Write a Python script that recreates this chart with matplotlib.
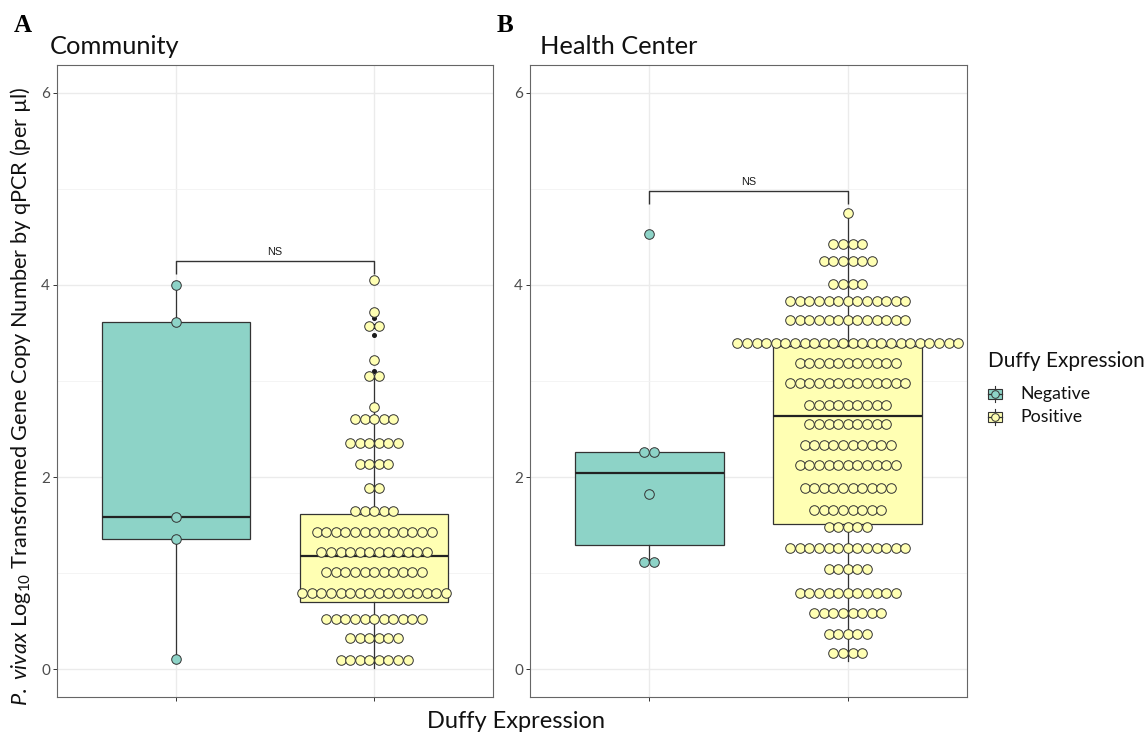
import numpy as np
import matplotlib
matplotlib.use('Agg')
import matplotlib.pyplot as plt
from matplotlib.patches import Rectangle

# ---------------- data ----------------
groups = ['Negative', 'Positive']
panel_titles = ['Community', 'Health Center']
panel_letters = ['A', 'B']
fill_colors = ['#8DD3C7', '#FFFFB3']

# dot-plot rows: binned value and number of dots stacked in that bin
comm_neg_vals = [4.00, 3.61, 1.58, 1.36, 0.11]
comm_neg_counts = [1, 1, 1, 1, 1]
comm_pos_vals = [4.05, 3.72, 3.57, 3.22, 3.05, 2.73, 2.60, 2.35, 2.14, 1.89,
                 1.645, 1.43, 1.215, 1.01, 0.79, 0.52, 0.32, 0.10]
comm_pos_counts = [1, 1, 2, 1, 2, 1, 5, 6, 4, 2, 5, 13, 12, 11, 16, 11, 6, 8]
hc_neg_vals = [4.53, 2.26, 1.82, 1.12]
hc_neg_counts = [1, 2, 1, 2]
hc_pos_vals = [4.745, 4.43, 4.25, 4.01, 3.83, 3.63, 3.40, 3.19, 2.98, 2.75, 2.55,
               2.33, 2.125, 1.89, 1.66, 1.48, 1.26, 1.04, 0.795, 0.58, 0.37, 0.165]
hc_pos_counts = [1, 4, 6, 4, 13, 13, 24, 11, 13, 9, 9, 10, 11, 10, 8, 5, 13, 5,
                 11, 8, 5, 4]

# box stats: whisker low, Q1, median, Q3, whisker high
comm_neg_box = [0.11, 1.36, 1.58, 3.61, 4.00]
comm_pos_box = [0.01, 0.70, 1.18, 1.62, 3.06]
hc_neg_box = [1.12, 1.295, 2.04, 2.26, 2.26]
hc_pos_box = [0.09, 1.51, 2.64, 3.36, 4.75]
comm_neg_out = []
comm_pos_out = [3.10, 3.22, 3.48, 3.57, 3.66, 3.72, 4.05]
hc_neg_out = [4.53]
hc_pos_out = []

ns_label = 'NS'
ns_heights = [4.25, 4.98]
y_ticks = [0, 2, 4, 6]
y_minor = [1, 3, 5]
x_label = 'Duffy Expression'
y_label = r'$\mathit{P.\ vivax}$ Log$_{10}$ Transformed Gene Copy Number by qPCR (per µl)'
legend_title = 'Duffy Expression'

panels = [
    dict(vals=[comm_neg_vals, comm_pos_vals], counts=[comm_neg_counts, comm_pos_counts],
         box=[comm_neg_box, comm_pos_box], out=[comm_neg_out, comm_pos_out]),
    dict(vals=[hc_neg_vals, hc_pos_vals], counts=[hc_neg_counts, hc_pos_counts],
         box=[hc_neg_box, hc_pos_box], out=[hc_neg_out, hc_pos_out]),
]

# ---------------- style ----------------
MAIN_FONT = ['Lato', 'DejaVu Sans']
plt.rcParams['font.family'] = MAIN_FONT
plt.rcParams['mathtext.fontset'] = 'custom'
plt.rcParams['mathtext.rm'] = 'Lato'
plt.rcParams['mathtext.it'] = 'Lato:italic'
plt.rcParams['mathtext.bf'] = 'Lato:bold'

W, H = 1147, 736
DPI = 100
fig = plt.figure(figsize=(W / DPI, H / DPI), dpi=DPI)
fig.patch.set_facecolor('white')


def rect(x0, y0, x1, y1):
    return [x0 / W, 1 - y1 / H, (x1 - x0) / W, (y1 - y0) / H]


axes_px = [(57, 65, 493, 697), (530, 65, 967, 697)]
XLIM = (0.4, 2.6)
YLIM = (-0.29, 6.29)
positions = [1, 2]
box_w = 0.75
dot_step = 0.0483  # in x data units
edge = '#333333'

for pi, (p, apx) in enumerate(zip(panels, axes_px)):
    ax = fig.add_axes(rect(*apx))

    px_per_unit = (apx[2] - apx[0]) / (XLIM[1] - XLIM[0])
    ms = dot_step * px_per_unit * 72 / DPI

    stats = []
    for b, o in zip(p['box'], p['out']):
        stats.append(dict(whislo=b[0], q1=b[1], med=b[2], q3=b[3], whishi=b[4], fliers=o))
    bp = ax.bxp(stats, positions=positions, widths=box_w, patch_artist=True,
                showcaps=False, showfliers=True,
                boxprops=dict(edgecolor=edge, lw=0.9),
                medianprops=dict(color='#222222', lw=1.6),
                whiskerprops=dict(color=edge, lw=0.9),
                flierprops=dict(marker='o', ms=2.6, mfc='#1a1a1a', mec='#1a1a1a', ls='none'),
                zorder=2)
    for patch, c in zip(bp['boxes'], fill_colors):
        patch.set_facecolor(c)

    for gi, (vals, cnts) in enumerate(zip(p['vals'], p['counts'])):
        xs, ys = [], []
        for v, n in zip(vals, cnts):
            offs = (np.arange(n) - (n - 1) / 2.0) * dot_step
            xs.extend(positions[gi] + offs)
            ys.extend([v] * n)
        ax.plot(xs, ys, ls='none', marker='o', ms=ms, mfc=fill_colors[gi], mec=edge,
                mew=0.7, zorder=4)

    # significance bracket
    h = ns_heights[pi]
    tick = 0.14
    ax.plot([positions[0], positions[0], positions[1], positions[1]],
            [h - tick, h, h, h - tick], color='#333333', lw=1.0, zorder=5,
            solid_capstyle='butt')
    ax.text(np.mean(positions), h + 0.04, ns_label, ha='center', va='bottom',
            fontsize=7.8, family=['Liberation Sans'], color='#1a1a1a', zorder=5)

    ax.set_xlim(*XLIM)
    ax.set_ylim(*YLIM)
    ax.set_axisbelow(True)
    ax.set_yticks(y_ticks)
    ax.set_yticks(y_minor, minor=True)
    ax.set_xticks(positions)
    ax.set_xticklabels(['', ''])
    ax.grid(True, which='major', color='#EBEBEB', lw=1.0)
    ax.grid(True, which='minor', axis='y', color='#F2F2F2', lw=0.6)
    ax.tick_params(axis='y', which='minor', length=0)
    ax.tick_params(axis='both', which='major', length=3, width=0.7, color='#333333',
                   labelsize=11, labelcolor='#4D4D4D', pad=2)
    for s in ax.spines.values():
        s.set_color('#666666')
        s.set_linewidth(0.8)

renderer = fig.canvas.get_renderer()


def fit(t, target, vertical=False):
    bb = t.get_window_extent(renderer)
    size = bb.height if vertical else bb.width
    t.set_fontsize(t.get_fontsize() * target / size)


# titles
t1 = fig.text(50 / W, 1 - 47 / H, panel_titles[0], ha='left', va='center', fontsize=16,
              color='#111111')
fit(t1, 130)
t2 = fig.text(540 / W, 1 - 47 / H, panel_titles[1], ha='left', va='center',
              fontsize=t1.get_fontsize(), color='#111111')
for x, letter in zip([14, 497], panel_letters):
    fig.text(x / W, 1 - 25 / H, letter, ha='left', va='center', fontsize=18,
             fontweight='bold', family=['Liberation Serif'], color='#000000')

# axis labels
xl = fig.text(516 / W, 1 - 722 / H, x_label, ha='center', va='center', fontsize=16,
              color='#111111')
fit(xl, 179)
yl = fig.text(21 / W, 1 - 396 / H, y_label, ha='center', va='center', rotation=90,
              fontsize=13, color='#111111')
fit(yl, 617, vertical=True)

# legend
lt = fig.text(988 / W, 1 - 361 / H, legend_title, ha='left', va='center', fontsize=14,
              color='#111111')
fit(lt, 157)
lax = fig.add_axes(rect(980, 380, 1012, 430))
lax.set_xlim(980, 1012)
lax.set_ylim(430, 380)
lax.axis('off')
key_y = [394, 417]
leg_size = 12
for ky, c, g in zip(key_y, fill_colors, groups):
    kx = 995
    lax.plot([kx, kx], [ky - 8, ky + 8], color=edge, lw=0.8, zorder=1)
    lax.add_patch(Rectangle((kx - 7, ky - 5), 14, 10, facecolor=c, edgecolor=edge,
                            lw=0.8, zorder=2))
    lax.plot([kx - 7, kx + 7], [ky, ky], color=edge, lw=0.9, zorder=3)
    lax.plot([kx], [ky], ls='none', marker='o', ms=5.5, mfc=c, mec=edge, mew=0.7, zorder=4)
    tt = fig.text(1020 / W, 1 - ky / H, g, ha='left', va='center', fontsize=leg_size,
                  color='#111111')
    if g == 'Negative':
        fit(tt, 70)
        leg_size = tt.get_fontsize()
    else:
        tt.set_fontsize(leg_size)

fig.savefig('out.png', dpi=DPI, facecolor='white')
